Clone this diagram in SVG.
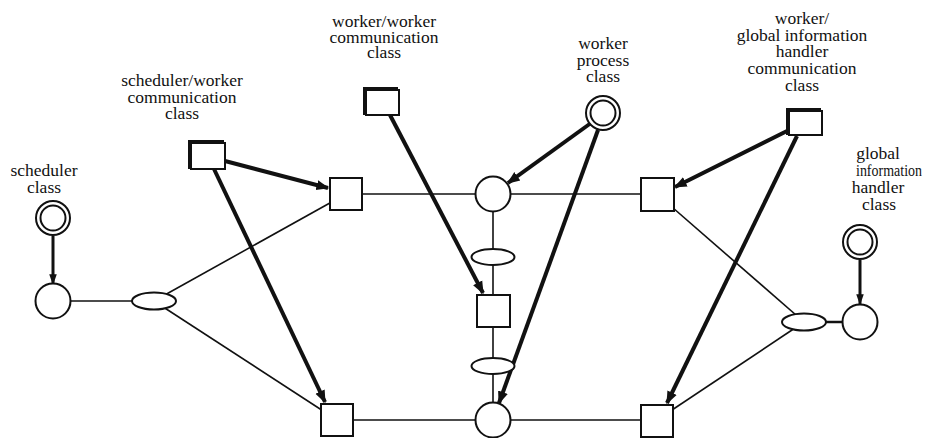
<svg xmlns="http://www.w3.org/2000/svg" width="926" height="438" viewBox="0 0 926 438">
<defs>
<marker id="ah" viewBox="0 0 10 10" refX="9" refY="5" markerWidth="3.2" markerHeight="3.2" markerUnits="strokeWidth" orient="auto">
<path d="M0,1 L10,5 L0,9 z" fill="#111"/>
</marker>
<marker id="ahs" viewBox="0 0 10 10" refX="9" refY="5" markerWidth="3.6" markerHeight="3.6" markerUnits="strokeWidth" orient="auto">
<path d="M0,1.5 L10,5 L0,8.5 z" fill="#111"/>
</marker>
</defs>
<style>
.t{font-size:17.5px;fill:#111;text-anchor:middle}
.n{fill:#fff;stroke:#111;stroke-width:2}
.thin{stroke:#111;stroke-width:1.6;fill:none}
.thick{stroke:#111;stroke-width:4;fill:none;marker-end:url(#ah)}
.med{stroke:#111;stroke-width:3;fill:none;marker-end:url(#ahs)}
.sh{stroke:#111;stroke-width:4;fill:none}
</style>
<rect width="926" height="438" fill="#fff"/>
<g id="connectors">
<line class="thin" x1="53" y1="301" x2="154" y2="301"/>
<line class="thin" x1="154" y1="301" x2="346" y2="194"/>
<line class="thin" x1="154" y1="301" x2="337" y2="420"/>
<line class="thin" x1="346" y1="194" x2="657" y2="194"/>
<line class="thin" x1="493" y1="194" x2="493" y2="420"/>
<line class="thin" x1="337" y1="420" x2="657" y2="420"/>
<line class="thin" x1="657" y1="194" x2="804" y2="322"/>
<line class="thin" x1="657" y1="420" x2="804" y2="322"/>
<line class="thin" x1="804" y1="322" x2="860" y2="322" style="stroke-width:2.5"/>
<line class="med" x1="53" y1="236" x2="53" y2="284"/>
<line class="med" x1="860" y1="260" x2="860" y2="304"/>
<line class="thick" x1="225" y1="161" x2="328" y2="188"/>
<line class="thick" x1="214" y1="169" x2="325" y2="402"/>
<line class="thick" x1="390" y1="115" x2="483" y2="293"/>
<line class="thick" x1="591" y1="123" x2="508" y2="183"/>
<line class="thick" x1="598" y1="130" x2="499" y2="403"/>
<line class="thick" x1="787" y1="131" x2="675" y2="187"/>
<line class="thick" x1="797" y1="136" x2="667" y2="403"/>
</g>
<g font-family="'Liberation Serif', 'DejaVu Serif', 'Times New Roman', serif">
<g id="scheduler-class">
<circle class="n" cx="53" cy="218" r="17"/>
<circle cx="53" cy="218" r="12.5" fill="none" stroke="#111" stroke-width="2"/>
<text class="t" x="44" y="176">scheduler</text>
<text class="t" x="44" y="192.5">class</text>
</g>
<g id="scheduler">
<circle class="n" cx="53" cy="301" r="17.5"/>
</g>
<g id="left-ellipse">
<ellipse class="n" cx="154" cy="301" rx="22" ry="8.5"/>
</g>
<g id="scheduler-worker-comm-class">
<rect class="n" x="191" y="143" width="34" height="26"/>
<path class="sh" d="M190,169 V142 H224"/>
<text class="t" x="182" y="86">scheduler/worker</text>
<text class="t" x="182" y="102.5">communication</text>
<text class="t" x="182" y="119">class</text>
</g>
<g id="sq-top-left">
<rect class="n" x="330" y="178" width="32" height="32"/>
</g>
<g id="sq-bottom-left">
<rect class="n" x="321" y="404" width="32" height="32"/>
</g>
<g id="worker-worker-comm-class">
<rect class="n" x="366" y="90" width="33" height="25"/>
<path class="sh" d="M365,115 V89 H398"/>
<text class="t" x="384" y="27">worker/worker</text>
<text class="t" x="384" y="42.5">communication</text>
<text class="t" x="384" y="58">class</text>
</g>
<g id="worker-process-class">
<circle class="n" cx="603" cy="113" r="17"/>
<circle cx="603" cy="113" r="12.5" fill="none" stroke="#111" stroke-width="2"/>
<text class="t" x="603" y="49">worker</text>
<text class="t" x="603" y="65.5">process</text>
<text class="t" x="603" y="82">class</text>
</g>
<g id="circle-top">
<circle class="n" cx="493" cy="194" r="17.5"/>
</g>
<g id="ellipse-mid-upper">
<ellipse class="n" cx="493" cy="257" rx="21.5" ry="8"/>
</g>
<g id="sq-middle">
<rect class="n" x="477" y="295" width="33" height="32"/>
</g>
<g id="ellipse-mid-lower">
<ellipse class="n" cx="493" cy="366" rx="21.5" ry="8"/>
</g>
<g id="circle-bottom">
<circle class="n" cx="493" cy="420" r="17.5"/>
</g>
<g id="worker-gih-comm-class">
<rect class="n" x="789" y="111" width="33" height="24"/>
<path class="sh" d="M788,135 V110 H821"/>
<text class="t" x="802" y="24">worker/</text>
<text class="t" x="802" y="40.5">global information</text>
<text class="t" x="802" y="57">handler</text>
<text class="t" x="802" y="74">communication</text>
<text class="t" x="802" y="91">class</text>
</g>
<g id="sq-top-right">
<rect class="n" x="641" y="178" width="33" height="33"/>
</g>
<g id="sq-bottom-right">
<rect class="n" x="641" y="405" width="32" height="32"/>
</g>
<g id="right-ellipse">
<ellipse class="n" cx="804" cy="322" rx="22" ry="8.5"/>
</g>
<g id="gih-class">
<circle class="n" cx="860" cy="242" r="17"/>
<circle cx="860" cy="242" r="12.5" fill="none" stroke="#111" stroke-width="2"/>
<text class="t" x="878" y="159">global</text>
<text class="t" x="889" y="176" textLength="66" lengthAdjust="spacingAndGlyphs">information</text>
<text class="t" x="878" y="193">handler</text>
<text class="t" x="879" y="210">class</text>
</g>
<g id="gih">
<circle class="n" cx="860" cy="322" r="17.5"/>
</g>
</g>
</svg>
